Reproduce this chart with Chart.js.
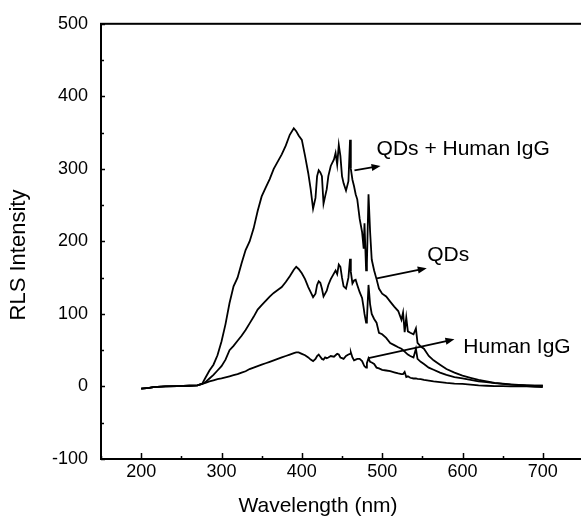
<!DOCTYPE html>
<html>
<head>
<meta charset="utf-8">
<script src="https://cdn.jsdelivr.net/npm/chart.js@4.4.1/dist/chart.umd.min.js"></script>
<style>
  html, body { margin: 0; padding: 0; background: #fff; overflow: hidden; }
  #wrap { width: 600px; height: 517px; }
</style>
</head>
<body>
<div id="wrap"><canvas id="chartRls" width="600" height="517"></canvas></div>
<script>
// wavelength (nm), shared by the three spectra
const wavelengths = [200,210,215,230,245,260,270,276,280,285,290,295,300,305,310,315,320,325,330,335,340,345,350,355,360,365,370,375,380,385,390,393,396,400,404,408,411,414,417,419,421,423,425,427,429,431,433,436,440,442,444,446,448,450,452,455,458,460,461,463,465,467,469,472,475,477,478,480,481,483,485,487,490,493,496,500,505,510,515,520,524,526,528,530,532,535,539,542,544,548,552,558,564,572,580,590,600,610,620,630,640,650,660,670,680,690,700];

// QDs + Human IgG
const qdIgG = [-3,-2,-1,0,0.5,1,1.5,4,12,22,30,43,62,86,115,138,150,170,188,200,218,242,262,274,286,300,310,320,332,347,356,352,346,340,318,294,272,245,260,290,298,295,290,252,262,272,290,304,313,322,306,333,318,290,280,270,283,340,300,285,276,265,258,231,213,190,225,160,170,265,213,175,160,148,135,128,124,117,110,104,92,102,75,95,76,74,72,80,60,55,52,42,36,30,24,19,15,12,9,7,5,4,3,2,1.5,1,1];

// QDs
const qdOnly = [-3,-2,-1,0,0.5,1,1.5,3.5,6,11,16,22,28,37,50,56,63,70,78,87,96,106,112,118,124,129,133,137,144,152,161,165,162,156,148,137,130,123,128,140,145,143,135,124,128,132,140,148,156,160,155,168,165,150,138,135,150,176,158,142,146,147,140,130,122,108,100,88,92,140,113,100,93,88,74,72,67,60,57,54,52,50,48,46,44,42,40,52,38,34,31,26,23,19,16,13,11,9,7,6,4.5,3.5,2.5,2,1.5,1,1];

// Human IgG
const igGOnly = [-3,-2,-1,0,0.5,1,1.5,3.5,5,7,8.5,10,11,12.5,14,15.5,17,19,21,24,26,28,30,32,34,36,38,40,42,44,46,47,47,45,43,40,37,35,38,42,44,41,38,37,40,39,40,42,41,43,45,44,40,39,38,42,44,45,47,40,36,37,38,38,35,30,28,26,32,39,34,33,31,26,25,23,22,21,19.5,18,17,17,20,13,14,12,11,11,10.5,10,9,8,7,6,5,4,3.5,2.5,1.5,1,0.5,0.5,0,0,0,-0.5,-1];

const seriesNames = ['QDs + Human IgG', 'QDs', 'Human IgG'];
const seriesValues = [qdIgG, qdOnly, igGOnly];

// tick labels
const xTickValues = [200, 300, 400, 500, 600, 700];
const yTickValues = [-100, 0, 100, 200, 300, 400, 500];

// arrow labels, in data units
const notes = [
  {text: 'QDs + Human IgG', at: [493, 327], from: [465.5, 298], to: [498, 304]},
  {text: 'QDs', at: [556, 181], from: [493.5, 149], to: [555.5, 163]},
  {text: 'Human IgG', at: [601, 54], from: [483, 39], to: [590, 65]}
];

const fontFam = '"Liberation Sans", Arial, Helvetica, sans-serif';

//-----FRAME, TICKS, TITLES, NOTES
const framePlugin = {
  id: 'framePlugin',
  afterDraw(chart) {
    const ctx = chart.ctx;
    const area = chart.chartArea;
    const xs = chart.scales.x;
    const ys = chart.scales.y;
    ctx.save();
    ctx.strokeStyle = '#000';
    ctx.lineWidth = 2;
    ctx.strokeRect(area.left, area.top, area.right - area.left, area.bottom - area.top);

    // inward ticks, major every 100, minor every 50
    ctx.lineWidth = 1.5;
    ctx.beginPath();
    for (let v = xs.min; v <= xs.max; v += 50) {
      const px = Math.round(xs.getPixelForValue(v)) + 0.5;
      const len = (v % 100 === 0) ? 6 : 3;
      ctx.moveTo(px, area.bottom);
      ctx.lineTo(px, area.bottom - len);
    }
    for (let v = ys.min; v <= ys.max; v += 50) {
      const py = Math.round(ys.getPixelForValue(v)) + 0.5;
      const len = (v % 100 === 0) ? 4 : 3;
      ctx.moveTo(area.left, py);
      ctx.lineTo(area.left + len, py);
    }
    ctx.stroke();

    // axis titles
    ctx.fillStyle = '#000';
    ctx.font = '21px ' + fontFam;
    ctx.textAlign = 'center';
    ctx.textBaseline = 'middle';
    ctx.fillText('Wavelength (nm)', 318, 506);
    ctx.save();
    ctx.translate(19, 255);
    ctx.rotate(-Math.PI / 2);
    ctx.font = '22px ' + fontFam;
    ctx.fillText('RLS Intensity', 0, 0);
    ctx.restore();

    // labels with arrows
    ctx.textAlign = 'left';
    notes.forEach(function(n) {
      ctx.fillText(n.text, xs.getPixelForValue(n.at[0]), ys.getPixelForValue(n.at[1]));
      const x1 = xs.getPixelForValue(n.from[0]), y1 = ys.getPixelForValue(n.from[1]);
      const x2 = xs.getPixelForValue(n.to[0]), y2 = ys.getPixelForValue(n.to[1]);
      const ang = Math.atan2(y2 - y1, x2 - x1);
      ctx.lineWidth = 1.8;
      ctx.beginPath();
      ctx.moveTo(x1, y1);
      ctx.lineTo(x2 - 6 * Math.cos(ang), y2 - 6 * Math.sin(ang));
      ctx.stroke();
      ctx.beginPath();
      ctx.moveTo(x2, y2);
      ctx.lineTo(x2 - 9 * Math.cos(ang) + 3.5 * Math.sin(ang), y2 - 9 * Math.sin(ang) - 3.5 * Math.cos(ang));
      ctx.lineTo(x2 - 9 * Math.cos(ang) - 3.5 * Math.sin(ang), y2 - 9 * Math.sin(ang) + 3.5 * Math.cos(ang));
      ctx.closePath();
      ctx.fill();
    });
    ctx.restore();
  }
};

//-----CHART
function drawSpectra() {
  const ctx = document.getElementById('chartRls').getContext('2d');
  const datasets = seriesValues.map(function(vals, i) {
    return {
      label: seriesNames[i],
      data: wavelengths.map(function(w, k) { return {x: w, y: vals[k]}; }),
      borderColor: '#000',
      borderWidth: 1.8,
      pointRadius: 0,
      tension: 0,
      fill: false
    };
  });

  new Chart(ctx, {
    type: 'line',
    data: {datasets: datasets},
    plugins: [framePlugin],
    options: {
      responsive: false,
      animation: false,
      events: [],
      layout: {padding: {left: 0, top: 20, right: 17, bottom: 0}},
      plugins: {legend: {display: false}, tooltip: {enabled: false}},
      scales: {
        x: {
          type: 'linear',
          min: 150,
          max: 750,
          bounds: 'data',
          grid: {display: false, drawTicks: false},
          border: {display: false},
          ticks: {padding: 2, color: '#000', font: {family: fontFam, size: 18}},
          afterBuildTicks: function(scale) {
            scale.ticks = xTickValues.map(function(v) { return {value: v}; });
          },
          afterFit: function(scale) { scale.height = 58; }
        },
        y: {
          type: 'linear',
          min: -100,
          max: 500,
          bounds: 'data',
          grid: {display: false, drawTicks: false},
          border: {display: false},
          ticks: {padding: 13, color: '#000', font: {family: fontFam, size: 18}},
          afterBuildTicks: function(scale) {
            scale.ticks = yTickValues.map(function(v) { return {value: v}; });
          },
          afterFit: function(scale) { scale.width = 101; }
        }
      }
    }
  });
}

window.onload = function() {
  drawSpectra();
};
</script>
</body>
</html>
